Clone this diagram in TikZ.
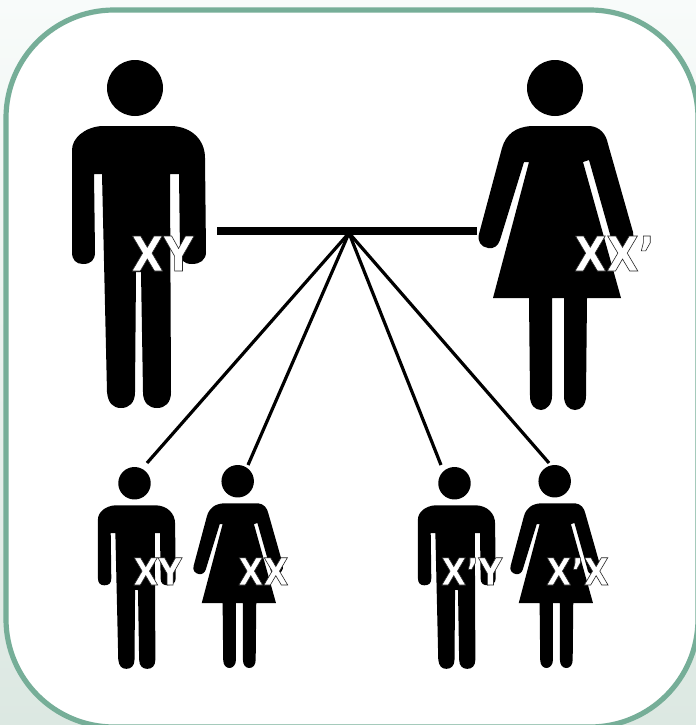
\documentclass[tikz,border=0pt]{standalone}
\usepackage{fontspec}
\newfontfamily\lblfont[FakeStretch=0.87]{DejaVu Sans Bold}
\usetikzlibrary{calc}
\definecolor{frameC}{HTML}{76AE98}
\definecolor{bgTop}{HTML}{F8FBFA}
\definecolor{bgBot}{HTML}{DCE8E2}
\newcommand{\outl}[1]{\special{pdf:code q 2 Tr 0.45 w 0.15 0.15 0.15 RG 1 1 1 rg}#1\special{pdf:code Q}}
\tikzset{
  bigtext/.style={font=\lblfont\fontsize{36}{36}\selectfont, text=white, inner sep=0pt, anchor=base west},
  smalltext/.style={font=\lblfont\fontsize{28}{28}\selectfont, text=white, inner sep=0pt, anchor=base west},
  bar/.style={line width=5.5pt, black},
  kinline/.style={line width=2.4pt, black},
  man/.pic={
    \fill[black] (135,88) circle[radius=28];
    \fill[black] (102,126) -- (172,126)
      .. controls (192,127) and (205,140) .. (205,158)
      -- (206,252) .. controls (206,260) and (200,264) .. (192,264)
      .. controls (184,264) and (180,260) .. (180,252)
      -- (179,174) -- (170,174)
      -- (171,392) .. controls (171,403) and (165,408) .. (157,408)
      .. controls (149,408) and (143,403) .. (143,392)
      -- (141,272) -- (136,272)
      -- (135,392) .. controls (135,403) and (129,408) .. (121,408)
      .. controls (113,408) and (108,403) .. (107,392)
      -- (102,174) -- (94,174)
      -- (95,252) .. controls (95,260) and (91,264) .. (83,264)
      .. controls (76,264) and (72,260) .. (72,252)
      -- (72,150) .. controls (72,138) and (85,127) .. (102,126) -- cycle;
  },
  woman/.pic={
    \fill[black] (555,88) circle[radius=28];
    \fill[black] (531,126) -- (590,126)
      .. controls (600,127) and (606,134) .. (608,144)
      -- (633,232) .. controls (635,242) and (628,248) .. (620,248)
      .. controls (614,248) and (612,244) .. (611,238)
      -- (589,160) -- (583,162)
      -- (621,298) -- (587,298)
      -- (586,396) .. controls (586,405) and (581,410) .. (575,410)
      .. controls (569,410) and (564,405) .. (564,396)
      -- (564,298) -- (552,298)
      -- (552,396) .. controls (552,405) and (546,410) .. (541,410)
      .. controls (535,410) and (530,405) .. (530,396)
      -- (529,298) -- (493,298)
      -- (529,162) -- (524,162)
      -- (500,240) .. controls (498,246) and (494,249) .. (488,248)
      .. controls (481,247) and (477,241) .. (479,234)
      -- (502,148) .. controls (506,134) and (516,127) .. (531,126) -- cycle;
  }
}
\begin{document}
\begin{tikzpicture}[x=0.75pt,y=-0.75pt]
\useasboundingbox (0,0) rectangle (696,725);
\shade[top color=bgTop,bottom color=bgBot] (0,0) rectangle (696,725);
\draw[frameC,line width=3.9pt,fill=white,rounded corners=81pt] (6,10) rectangle (698,727);
\pic at (0,0) {man};
\pic at (0,0) {woman};
\pic[scale=0.58] at (56.2,432.2) {man};
\pic[scale=0.58] at (376.2,432.2) {man};
\pic[scale=0.58] at (-84.2,430.2) {woman};
\pic[scale=0.58] at (232.8,430.2) {woman};
\coordinate (fa) at (217,231);
\coordinate (mo) at (477,231);
\coordinate (apex) at (349,233);
\coordinate (c1) at (147,463);
\coordinate (c2) at (248,465);
\coordinate (c3) at (441,465);
\coordinate (c4) at (549,463);
\draw[bar] (fa) -- (mo);
\draw[kinline] (apex) -- (c1);
\draw[kinline] (apex) -- (c2);
\draw[kinline] (apex) -- (c3);
\draw[kinline] (apex) -- (c4);
\node[bigtext] (t1) at (131,271) {\outl{XY}};
\node[bigtext] (t2) at (574,271) {\outl{XX’}};
\node[smalltext] (t3) at (133,585) {\outl{XY}};
\node[smalltext] (t4) at (238,585) {\outl{XX}};
\node[smalltext] (t5) at (441,585) {\outl{X’Y}};
\node[smalltext] (t6) at (546,585) {\outl{X’X}};
\end{tikzpicture}
\end{document}
